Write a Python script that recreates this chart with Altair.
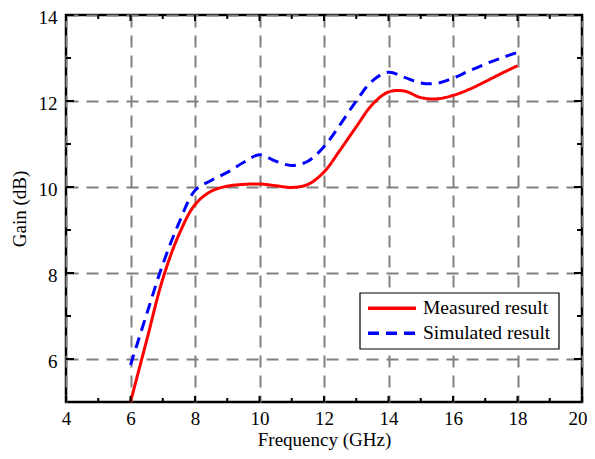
import altair as alt
import pandas as pd

# Data
freq = [6, 6.5, 7, 7.5, 8, 8.5, 9, 9.5, 10, 10.5, 11, 11.5, 12, 12.5,
        13, 13.5, 14, 14.5, 15, 15.5, 16, 16.5, 17, 17.5, 18]
measured = [5.0, 6.43, 7.86, 8.89, 9.59, 9.9, 10.02, 10.06, 10.07, 10.03, 9.99, 10.06,
            10.35, 10.86, 11.4, 11.92, 12.21, 12.23, 12.08, 12.05, 12.13, 12.27, 12.45,
            12.64, 12.82]
simulated = [5.86, 7.04, 8.2, 9.16, 9.92, 10.15, 10.34, 10.57, 10.75, 10.6, 10.5, 10.6,
             10.94, 11.45, 12.0, 12.47, 12.67, 12.55, 12.42, 12.41, 12.53, 12.7, 12.86,
             13.0, 13.13]
series_names = ["Measured result", "Simulated result"]
series_colors = ["#ff0000", "#0000ff"]

x_major = [4, 6, 8, 10, 12, 14, 16, 18, 20]
x_minor = [5, 7, 9, 11, 13, 15, 17, 19]
y_major = [6, 8, 10, 12, 14]
y_minor = [7, 9, 11, 13]

W, H = 516, 387
FONT = "Liberation Serif"
DASH = [11, 7]

df = pd.DataFrame({
    "freq": freq * 2,
    "gain": measured + simulated,
    "series": [series_names[0]] * len(freq) + [series_names[1]] * len(freq),
})

xs = alt.Scale(domain=[4, 20], nice=False)
ys = alt.Scale(domain=[5, 14], nice=False)

lines = alt.Chart(df).mark_line(strokeWidth=3, interpolate="catmull-rom").encode(
    x=alt.X("freq:Q", scale=xs, title="Frequency (GHz)",
            axis=alt.Axis(values=x_major, grid=True, ticks=False, tickSize=0, domain=False,
                          labelFlush=False, labelBaseline="alphabetic", labelPadding=22,
                          labelAlign=alt.expr("datum.value == 20 ? 'right' : 'center'"),
                          labelOffset=alt.expr("datum.value == 20 ? 5 : 0"),
                          titleBaseline="alphabetic", titleY=43, format="d")),
    y=alt.Y("gain:Q", scale=ys, title="Gain (dB)",
            axis=alt.Axis(values=y_major, grid=True, ticks=False, tickSize=0, domain=False,
                          labelFlush=False, labelPadding=9, labelOffset=2,
                          titlePadding=9, format="d")),
    color=alt.Color("series:N", legend=None,
                    scale=alt.Scale(domain=series_names, range=series_colors)),
    strokeDash=alt.StrokeDash("series:N", legend=None,
                              scale=alt.Scale(domain=series_names, range=[[1, 0], DASH])),
)

def xticks(vals, length):
    d = pd.DataFrame({"v": vals})
    bottom = alt.Chart(d).mark_rule(color="black", strokeWidth=2).encode(
        x=alt.X("v:Q", scale=xs), y=alt.value(H), y2=alt.value(H - length))
    top = alt.Chart(d).mark_rule(color="black", strokeWidth=2).encode(
        x=alt.X("v:Q", scale=xs), y=alt.value(0), y2=alt.value(length))
    return [bottom, top]

def yticks(vals, length):
    d = pd.DataFrame({"v": vals})
    left = alt.Chart(d).mark_rule(color="black", strokeWidth=2).encode(
        y=alt.Y("v:Q", scale=ys), x=alt.value(0), x2=alt.value(length))
    right = alt.Chart(d).mark_rule(color="black", strokeWidth=2).encode(
        y=alt.Y("v:Q", scale=ys), x=alt.value(W), x2=alt.value(W - length))
    return [left, right]

# Hand-drawn legend (box, line samples, labels)
box_df = pd.DataFrame({"k": [0]})
leg_box = alt.Chart(box_df).mark_rect(fill="white", stroke="black", strokeWidth=1.2).encode(
    x=alt.value(294), x2=alt.value(493), y=alt.value(278), y2=alt.value(334))

leg_layers = [leg_box]
row_y = [293.3, 318.3]
for i, name in enumerate(series_names):
    d = pd.DataFrame({"series": [name]})
    dash = [1, 0] if i == 0 else DASH
    leg_layers.append(
        alt.Chart(d).mark_rule(color=series_colors[i], strokeWidth=3.5, strokeDash=dash).encode(
            x=alt.value(302), x2=alt.value(350), y=alt.value(row_y[i])))
    leg_layers.append(
        alt.Chart(d).mark_text(align="left", baseline="alphabetic", font=FONT,
                               fontSize=19.5, color="black").encode(
            x=alt.value(357), y=alt.value(row_y[i] + 6), text="series:N"))

layers = ([lines] + xticks(x_major, 6) + xticks(x_minor, 4)
          + yticks(y_major, 8) + yticks(y_minor, 5) + leg_layers)

chart = alt.layer(*layers).properties(
    width=W, height=H,
    autosize=alt.AutoSizeParams(type="none"),
    padding={"left": 58, "top": 7, "right": 5, "bottom": 49},
).configure_view(
    stroke="black", strokeWidth=2.5
).configure_axis(
    labelFont=FONT, titleFont=FONT, labelFontSize=19, titleFontSize=19,
    labelColor="black", titleColor="black", titleFontWeight="normal",
    gridColor="#808080", gridDash=[12, 8], gridWidth=2, gridOpacity=1,
)

chart.save("out.html", embed_options={"renderer": "svg", "actions": False})
